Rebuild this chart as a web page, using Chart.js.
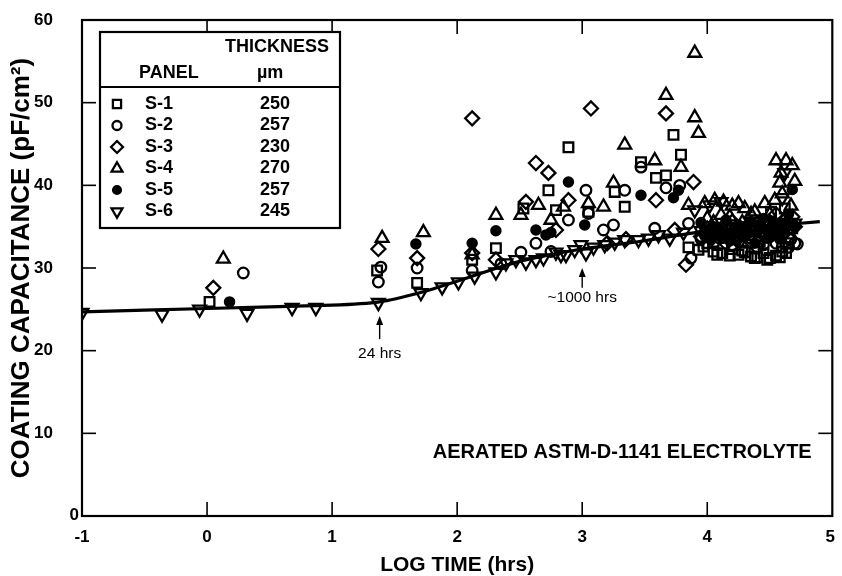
<!DOCTYPE html>
<html><head><meta charset="utf-8">
<script src="https://cdn.jsdelivr.net/npm/chart.js@4"></script>
<style>html,body{margin:0;padding:0;background:#fff}#wrap{width:842px;height:576px}</style>
</head><body><div id="wrap"><canvas id="c" width="842" height="576"></canvas></div>
<script>
const xTicks = [-1, 0, 1, 2, 3, 4, 5];
const yTicks = [0, 10, 20, 30, 40, 50, 60];
const panels = ['S-1', 'S-2', 'S-3', 'S-4', 'S-5', 'S-6'];
const thickness = [250, 257, 230, 270, 257, 245];

const s1 = [[0.02,25.9],[1.36,29.7],[1.68,28.2],[2.12,31.0],[2.31,32.4],[2.53,37.2],[2.73,39.4],[2.79,37.0],[2.89,44.6],[3.05,36.8],[3.26,39.2],[3.34,37.4],[3.47,42.8],[3.59,40.9],[3.67,41.2],[3.73,46.1],[3.79,43.7],[3.85,32.5],[3.93,32.2],[3.97,32.6],[4.0,33.0],[4.05,32.0],[4.08,31.6],[4.12,31.8],[4.15,35.0],[4.18,31.5],[4.2,32.3],[4.22,33.6],[4.25,31.6],[4.28,32.1],[4.3,31.9],[4.35,31.4],[4.35,34.0],[4.38,31.2],[4.4,31.3],[4.42,33.2],[4.45,31.8],[4.48,31.0],[4.5,31.2],[4.51,36.8],[4.55,31.5],[4.55,34.2],[4.58,31.3],[4.6,32.0],[4.62,37.2],[4.63,31.8],[4.65,33.0],[4.68,34.8]];
const s2 = [[0.29,29.4],[1.37,28.3],[1.39,30.1],[1.68,30.0],[2.12,29.7],[2.35,30.5],[2.51,31.9],[2.63,33.0],[2.75,32.0],[2.89,35.8],[3.03,39.4],[3.05,36.6],[3.17,34.6],[3.25,35.2],[3.34,39.4],[3.47,42.2],[3.58,34.8],[3.67,39.7],[3.78,40.0],[3.85,35.4],[3.87,31.2],[3.95,33.5],[4.0,34.2],[4.05,33.0],[4.1,33.6],[4.15,34.0],[4.2,32.8],[4.25,33.2],[4.3,34.0],[4.35,33.6],[4.4,32.5],[4.45,32.8],[4.5,33.8],[4.55,33.0],[4.6,32.6],[4.65,32.5],[4.67,33.5],[4.7,33.0],[4.72,32.9]];
const s3 = [[0.05,27.6],[1.37,32.3],[1.68,31.2],[2.12,31.8],[2.12,48.1],[2.31,31.0],[2.55,38.0],[2.63,42.7],[2.73,41.5],[2.79,34.6],[2.89,38.2],[3.07,49.3],[3.2,33.0],[3.35,33.5],[3.59,38.2],[3.67,48.7],[3.74,34.6],[3.83,30.4],[3.89,40.4],[3.95,33.8],[4.0,34.8],[4.1,34.5],[4.15,33.0],[4.2,35.6],[4.25,33.8],[4.3,34.2],[4.35,33.2],[4.4,34.8],[4.45,34.0],[4.5,35.5],[4.55,36.5],[4.6,34.0],[4.62,35.2],[4.65,33.6],[4.68,36.2],[4.7,35.0]];
const s4 = [[0.13,31.1],[1.40,33.6],[1.73,34.3],[2.12,31.6],[2.31,36.4],[2.51,36.4],[2.65,37.6],[2.75,35.8],[2.85,37.4],[3.05,37.8],[3.17,37.4],[3.25,40.3],[3.34,44.9],[3.58,43.0],[3.67,50.9],[3.79,42.2],[3.85,37.6],[3.90,56.0],[3.90,48.2],[3.93,46.3],[3.98,37.8],[4.0,36.0],[4.05,35.5],[4.06,38.2],[4.11,36.4],[4.13,38.0],[4.18,36.2],[4.2,37.5],[4.25,37.8],[4.28,35.5],[4.3,37.2],[4.35,36.5],[4.38,36.8],[4.42,35.0],[4.46,37.8],[4.5,36.5],[4.54,38.2],[4.55,43.0],[4.58,40.3],[4.59,41.5],[4.6,39.0],[4.62,36.0],[4.63,43.0],[4.67,37.5],[4.68,42.4],[4.7,40.5]];
const s5 = [[0.18,25.9],[1.67,32.9],[2.12,33.0],[2.31,34.5],[2.63,34.6],[2.71,34.0],[2.75,34.3],[2.89,40.4],[3.02,35.2],[3.47,38.8],[3.73,38.5],[3.77,39.4],[3.95,35.5],[3.98,34.3],[4.0,34.0],[4.03,33.4],[4.05,35.0],[4.08,34.0],[4.1,34.6],[4.13,33.6],[4.15,35.8],[4.18,33.3],[4.2,34.0],[4.22,34.9],[4.25,35.2],[4.27,33.8],[4.3,34.6],[4.33,34.2],[4.35,35.6],[4.38,33.0],[4.4,34.3],[4.43,35.0],[4.45,36.0],[4.48,33.6],[4.5,34.8],[4.53,34.1],[4.55,35.4],[4.58,33.5],[4.6,34.5],[4.63,35.0],[4.65,36.5],[4.68,39.5],[4.7,35.0]];
const s6 = [[-1,24.6],[-0.36,24.4],[-0.06,25.0],[0.32,24.5],[0.68,25.2],[0.87,25.2],[1.37,25.8],[1.71,27.0],[1.88,27.7],[2.01,28.3],[2.14,29.0],[2.31,29.5],[2.39,30.6],[2.47,31.0],[2.55,30.7],[2.63,31.0],[2.69,31.2],[2.79,31.9],[2.83,31.6],[2.87,31.6],[2.94,32.2],[2.99,32.8],[3.03,31.8],[3.09,32.5],[3.18,32.8],[3.26,33.1],[3.34,33.4],[3.45,33.4],[3.53,33.6],[3.61,34.0],[3.70,33.6],[3.81,34.3],[3.90,37.0],[3.95,34.5],[4.0,34.7],[4.02,37.6],[4.05,34.6],[4.1,34.8],[4.11,38.0],[4.15,35.0],[4.2,34.7],[4.25,35.0],[4.25,33.5],[4.3,35.1],[4.35,35.0],[4.4,35.2],[4.45,35.3],[4.45,33.8],[4.5,35.2],[4.55,35.4],[4.6,35.3],[4.6,38.5],[4.62,41.5],[4.65,35.5],[4.7,35.4]];

const fitX = [-1, 0, 1, 1.38, 1.7, 2.0, 2.3, 2.5, 2.75, 3.0, 3.5, 4.0, 4.5, 4.9];
const fitY = [24.7, 25.1, 25.5, 25.9, 27.0, 28.4, 29.9, 30.8, 31.6, 32.3, 33.3, 34.5, 35.1, 35.6];

const notes = [
  {text: '24 hrs', x: Math.log10(24), head: 24.2, tail: 21.4, textY: 19.6},
  {text: '~1000 hrs', x: 3, head: 30.0, tail: 27.6, textY: 26.4}
];
const electrolyteText = 'AERATED ASTM-D-1141 ELECTROLYTE';

const FONT = '"Liberation Sans", Arial, Helvetica, sans-serif';
const styles = [
  {pointStyle: 'rect', radius: 6.8, rotation: 0, fill: 'rgba(0,0,0,0)'},
  {pointStyle: 'circle', radius: 5.3, rotation: 0, fill: 'rgba(0,0,0,0)'},
  {pointStyle: 'rectRot', radius: 7, rotation: 0, fill: 'rgba(0,0,0,0)'},
  {pointStyle: 'triangle', radius: 7.4, rotation: 0, fill: 'rgba(0,0,0,0)'},
  {pointStyle: 'circle', radius: 4.6, rotation: 0, fill: '#000'},
  {pointStyle: 'triangle', radius: 7.4, rotation: 180, fill: 'rgba(0,0,0,0)'}
];
const series = [s1, s2, s3, s4, s5, s6];
const BW = 2.3;

const datasets = series.map((s, i) => ({
  type: 'scatter',
  label: panels[i],
  data: s.map(p => ({x: p[0], y: p[1]})),
  pointStyle: styles[i].pointStyle,
  pointRadius: styles[i].radius,
  pointRotation: styles[i].rotation,
  pointBackgroundColor: styles[i].fill,
  pointBorderColor: '#000',
  pointBorderWidth: BW,
  order: 2
}));
datasets.push({
  type: 'line',
  label: 'fit',
  data: fitX.map((x, i) => ({x, y: fitY[i]})),
  borderColor: '#000',
  borderWidth: 3.2,
  pointRadius: 0,
  tension: 0.2,
  fill: false,
  order: 1
});

const TL = 14;
const framePlugin = {
  id: 'frame',
  afterDraw(chart) {
    const {ctx, chartArea: a, scales: {x, y}} = chart;
    ctx.save();
    ctx.strokeStyle = '#000';
    ctx.fillStyle = '#000';
    const line = (x1, y1, x2, y2) => { ctx.beginPath(); ctx.moveTo(x1, y1); ctx.lineTo(x2, y2); ctx.stroke(); };
    ctx.lineWidth = 1.6;
    xTicks.slice(1, -1).forEach(v => {
      const px = x.getPixelForValue(v);
      line(px, a.bottom, px, a.bottom - TL);
      line(px, a.top, px, a.top + TL);
    });
    yTicks.slice(1, -1).forEach(v => {
      const py = y.getPixelForValue(v);
      line(a.left, py, a.left + TL, py);
      line(a.right, py, a.right - TL, py);
    });
    ctx.lineWidth = 2.2;
    ctx.strokeRect(a.left, a.top, a.right - a.left, a.bottom - a.top);
    // tick labels
    ctx.font = 'bold 17px ' + FONT;
    ctx.textAlign = 'right'; ctx.textBaseline = 'middle';
    yTicks.forEach(v => {
      const px = v === 0 ? a.left - 3 : a.left - 29;
      ctx.fillText(String(v), px, y.getPixelForValue(v) + (v === 0 ? -1 : 0));
    });
    ctx.textAlign = 'center';
    xTicks.forEach(v => {
      ctx.fillText(String(v), x.getPixelForValue(v) + (v === 5 ? -2 : 0), a.bottom + 21);
    });
    // annotations
    notes.forEach(n => {
      const px = x.getPixelForValue(n.x);
      const ph = y.getPixelForValue(n.head), pt = y.getPixelForValue(n.tail);
      ctx.lineWidth = 1.4;
      line(px, ph + 5, px, pt);
      ctx.beginPath(); ctx.moveTo(px, ph); ctx.lineTo(px - 3.5, ph + 9); ctx.lineTo(px + 3.5, ph + 9); ctx.closePath(); ctx.fill();
      ctx.font = '15.5px ' + FONT;
      ctx.textAlign = 'center'; ctx.textBaseline = 'middle';
      ctx.fillText(n.text, px, y.getPixelForValue(n.textY));
    });
    ctx.font = 'bold 20px ' + FONT;
    ctx.textAlign = 'center'; ctx.textBaseline = 'middle';
    ctx.fillText(electrolyteText, x.getPixelForValue(3.32), y.getPixelForValue(7.7), 388);
    // legend box
    const L = a.left + 18, T = a.top + 12, R = a.left + 258, B = a.top + 208;
    ctx.lineWidth = 2.2;
    ctx.fillStyle = '#fff';
    ctx.fillRect(L, T, R - L, B - T);
    ctx.strokeRect(L, T, R - L, B - T);
    line(L, T + 55, R, T + 55);
    ctx.fillStyle = '#000';
    ctx.font = 'bold 18px ' + FONT;
    ctx.textBaseline = 'middle';
    ctx.textAlign = 'left';
    ctx.fillText('THICKNESS', L + 125, T + 15);
    ctx.fillText('PANEL', L + 39, T + 41);
    ctx.fillText('\u00b5m', L + 157, T + 41);
    panels.forEach((p, i) => {
      const ry = T + 72 + i * 21.5;
      ctx.fillStyle = '#000';
      ctx.fillText(p, L + 45, ry);
      ctx.fillText(String(thickness[i]), L + 160, ry);
      ctx.fillStyle = styles[i].fill;
      ctx.strokeStyle = '#000';
      ctx.lineWidth = BW;
      Chart.helpers.drawPoint(ctx, {pointStyle: styles[i].pointStyle, radius: styles[i].radius * 0.85, rotation: styles[i].rotation, borderWidth: BW}, L + 17, ry);
    });
    ctx.restore();
  }
};

new Chart(document.getElementById('c'), {
  data: {datasets},
  options: {
    responsive: false,
    animation: false,
    devicePixelRatio: 1,
    layout: {padding: {top: 20, right: 9, left: 0, bottom: 0}},
    plugins: {legend: {display: false}, tooltip: {enabled: false}},
    scales: {
      x: {
        type: 'linear', min: -1, max: 5,
        afterBuildTicks: s => { s.ticks = xTicks.map(v => ({value: v})); },
        afterFit: s => { s.height = 60; },
        grid: {display: false, drawTicks: false},
        border: {display: false},
        ticks: {display: false},
        title: {display: true, text: 'LOG TIME (hrs)', color: '#000', font: {family: FONT, weight: 'bold', size: 21, lineHeight: 1}, padding: {top: 0, bottom: 0}}
      },
      y: {
        type: 'linear', min: 0, max: 60,
        afterBuildTicks: s => { s.ticks = yTicks.map(v => ({value: v})); },
        afterFit: s => { s.width = 82; },
        grid: {display: false, drawTicks: false},
        border: {display: false},
        ticks: {display: false},
        title: {display: true, text: 'COATING CAPACITANCE (pF/cm\u00b2)', color: '#000', font: {family: FONT, weight: 'bold', size: 26, lineHeight: 1}, padding: {top: 9, bottom: 0}}
      }
    }
  },
  plugins: [framePlugin]
});
</script>
</body></html>
